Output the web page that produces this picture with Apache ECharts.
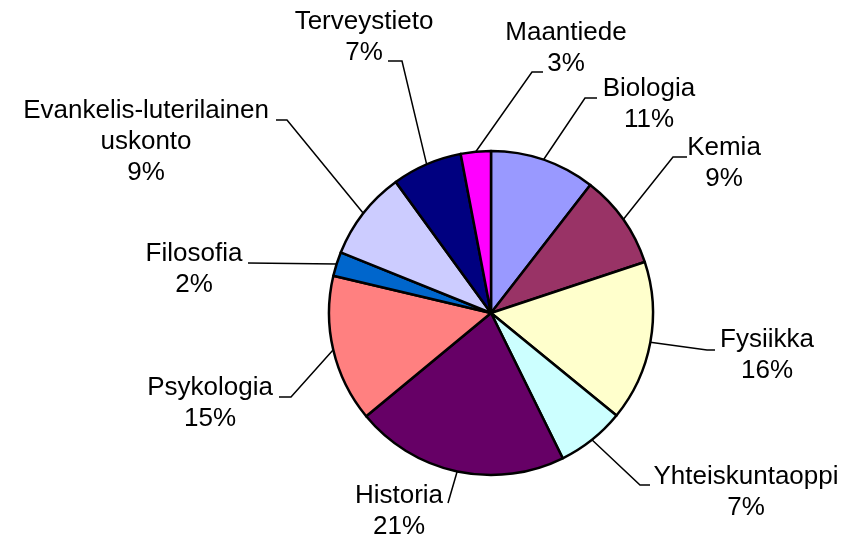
<!DOCTYPE html>
<html>
<head>
<meta charset="utf-8">
<script src="https://cdn.jsdelivr.net/npm/echarts@6/dist/echarts.min.js"></script>
<style>
html,body{margin:0;padding:0;background:#ffffff;}
#chart{width:849px;height:540px;}
</style>
</head>
<body>
<div id="chart"></div>
<script>
// ---- data ----
const categories = ['Biologia', 'Kemia', 'Fysiikka', 'Yhteiskuntaoppi', 'Historia', 'Psykologia', 'Filosofia', 'Evankelis-luterilainen uskonto', 'Terveystieto', 'Maantiede'];
const values = [10.5, 9.4, 16.0, 6.8, 21.3, 14.7, 2.4, 8.9, 7.0, 3.0];
const colors = ['#9999FF', '#993366', '#FFFFCC', '#CCFFFF', '#660066', '#FF8080', '#0066CC', '#CCCCFF', '#000080', '#FF00FF'];

// ---- label placement (offsets from pie centre, px) ----
const labelCentre = [[158,-209],[233,-150],[276,42],[255,179],[-92,198],[-281,90],[-297,-44],[-345,-171],[-127,-276],[75,-265]];
const leaderElbow = [[94,-215],[182,-156],[216,37],[149,172],[-43,190],[-200,84],[-243,-50],[-204,-193],[-89,-252],[41,-241]];
const leaderEnd   = [[106,-215],[196,-156],[224,37],[159,172],[-43,190],[-212,84],[-243,-50],[-215,-193],[-103,-252],[52,-241]];

const CX = 491, CY = 313, R = 162;

const chart = echarts.init(document.getElementById('chart'), null, {renderer: 'canvas'});

const total = values.reduce((a, b) => a + b, 0);
function fallbackStart(i) {
  let acc = 0;
  for (let k = 0; k < i; k++) acc += values[k];
  const mid = (acc + values[i] / 2) / total * 2 * Math.PI;
  return [CX + R * Math.sin(mid), CY - R * Math.cos(mid)];
}

chart.setOption({
  backgroundColor: '#ffffff',
  animation: false,
  color: colors,
  series: [{
    type: 'pie',
    center: [CX, CY],
    radius: R,
    startAngle: 90,
    clockwise: true,
    avoidLabelOverlap: false,
    percentPrecision: 0,
    itemStyle: {borderColor: '#000000', borderWidth: 2.5},
    label: {
      show: true,
      position: 'outside',
      color: '#000000',
      fontFamily: 'Liberation Sans, Arial, sans-serif',
      fontSize: 26,
      lineHeight: 31,
      align: 'center',
      formatter: function (p) {
        return p.name.replace(' ', '\n') + '\n' + p.percent + '%';
      }
    },
    labelLine: {
      show: true,
      length: 30,
      length2: 10,
      lineStyle: {color: '#000000', width: 1.5}
    },
    emphasis: {disabled: true},
    labelLayout: function (p) {
      const i = p.dataIndex;
      const start = (p.labelLinePoints && p.labelLinePoints[0]) || fallbackStart(i);
      return {
        x: CX + labelCentre[i][0],
        y: CY + labelCentre[i][1],
        align: 'center',
        verticalAlign: 'middle',
        labelLinePoints: [
          start,
          [CX + leaderElbow[i][0], CY + leaderElbow[i][1]],
          [CX + leaderEnd[i][0], CY + leaderEnd[i][1]]
        ]
      };
    },
    data: categories.map((name, i) => ({name: name, value: values[i]}))
  }]
});
</script>
</body>
</html>
